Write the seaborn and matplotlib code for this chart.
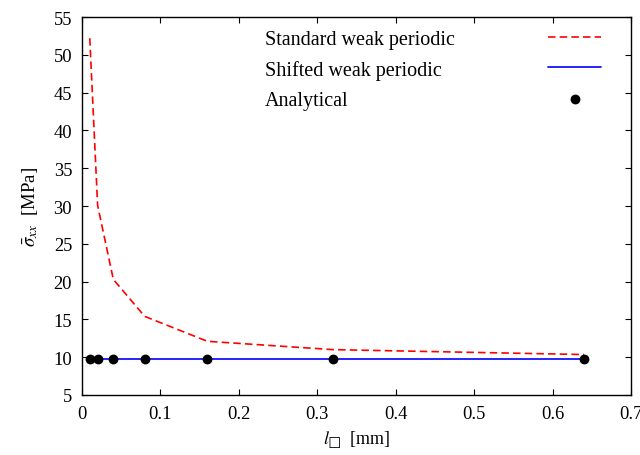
import matplotlib
matplotlib.use("Agg")
import matplotlib.pyplot as plt
from matplotlib.lines import Line2D
import seaborn as sns
import pandas as pd

x_l = [0.01, 0.02, 0.04, 0.08, 0.16, 0.32, 0.64]
standard = [52.2, 30.1, 20.3, 15.4, 12.1, 11.0, 10.35]
shifted = [9.7, 9.7, 9.7, 9.7, 9.7, 9.7, 9.7]
analytical = [9.7, 9.7, 9.7, 9.7, 9.7, 9.7, 9.7]
labels = ["Standard weak periodic", "Shifted weak periodic", "Analytical"]

sns.set_theme(style="ticks")
plt.rcParams['font.family'] = ['Liberation Serif', 'DejaVu Serif']
plt.rcParams['mathtext.fontset'] = 'stix'
plt.rcParams['xtick.direction'] = 'in'
plt.rcParams['ytick.direction'] = 'in'
for k in ['text.color', 'axes.labelcolor', 'xtick.color', 'ytick.color', 'axes.edgecolor']:
    plt.rcParams[k] = 'black'

df = pd.DataFrame({"x": x_l, "standard": standard, "shifted": shifted, "analytical": analytical})

fig = plt.figure(figsize=(6.4, 4.56), dpi=100)
ax = fig.add_axes([0.128, 0.1316, 0.858, 0.8289])

sns.lineplot(data=df, x="x", y="standard", ax=ax, color="#ff0000", lw=1.2,
             label=labels[0])
ax.lines[-1].set_dashes((4.5, 2.5))
sns.lineplot(data=df, x="x", y="shifted", ax=ax, color="#0000ff", lw=1.2,
             label=labels[1])
sns.scatterplot(data=df, x="x", y="analytical", ax=ax, color="black", s=50,
                edgecolor="black", linewidth=0, label=labels[2], zorder=5)

ax.set_xlim(0, 0.7)
ax.set_ylim(5, 55)
ax.set_xticks([0, 0.1, 0.2, 0.3, 0.4, 0.5, 0.6, 0.7])
ax.set_xticklabels(["0", "0.1", "0.2", "0.3", "0.4", "0.5", "0.6", "0.7"])
ax.set_yticks(range(5, 56, 5))
ax.tick_params(axis="both", which="both", top=True, right=True, labelsize=13.3,
               length=4.5, width=0.8, color="black", pad=7)
for s in ax.spines.values():
    s.set_linewidth(1.0)
    s.set_color("black")

ax.set_xlabel("$l_{\u25a1}$  [mm]", fontsize=13, labelpad=5)
ax.set_ylabel(r"$\bar{\sigma}_{xx}$  [MPa]", fontsize=13.5, labelpad=10)

handles, _ = ax.get_legend_handles_labels()
if ax.get_legend():
    ax.get_legend().remove()

# text column (left-aligned labels)
blank = [Line2D([], [], linestyle="none") for _ in labels]
leg1 = ax.legend(blank, labels, loc="upper left", bbox_to_anchor=(0.333, 0.965),
                 frameon=False, fontsize=14.5, handlelength=0, handletextpad=0,
                 labelspacing=0.55, borderaxespad=0, borderpad=0)
ax.add_artist(leg1)
# handle column
leg2 = ax.legend(handles, [" "] * 3, loc="upper left", bbox_to_anchor=(0.849, 0.965),
                 frameon=False, fontsize=14.5, handlelength=2.65, handletextpad=0,
                 labelspacing=0.55, borderaxespad=0, borderpad=0)

fig.savefig("out.png", dpi=100)
